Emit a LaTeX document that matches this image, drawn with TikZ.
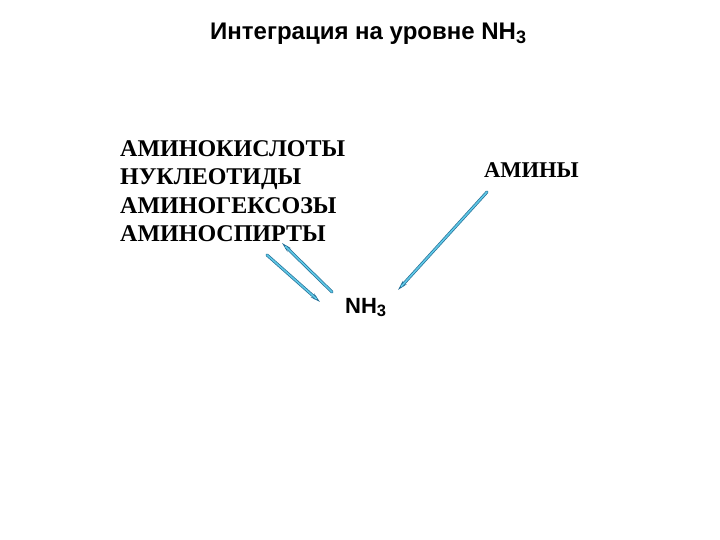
\documentclass[tikz,border=0pt]{standalone}
\usepackage{fontspec}
\setmainfont{Liberation Serif}
\setsansfont{Liberation Sans}
\usetikzlibrary{arrows.meta,positioning}
\definecolor{arrowfill}{RGB}{95,200,230}
\definecolor{arrowedge}{RGB}{35,110,150}

\newcommand{\subthree}{\raisebox{-0.3ex}{\scalebox{0.75}{3}}}

\tikzset{
  flow/.style={draw=arrowedge, line width=3pt, line cap=round,
    -{Stealth[length=10pt,width=5pt]},
    postaction={draw=arrowfill, line width=1.6pt, shorten >=5pt, -}},
}

\begin{document}
\begin{tikzpicture}[x=1pt, y=-1pt]
    \useasboundingbox (0,0) rectangle (720,540);

    % Title
    \node[anchor=base west, font=\sffamily\bfseries\fontsize{24}{28}\selectfont, inner sep=0pt]
        (title) at (210,40) {Интеграция на уровне NH\subthree};

    % Compounds
    \node[anchor=north west, align=left, inner sep=0pt,
          font=\bfseries\fontsize{24}{28.5}\selectfont]
        (list) at (120,140) {АМИНОКИСЛОТЫ\\НУКЛЕОТИДЫ\\АМИНОГЕКСОЗЫ\\АМИНОСПИРТЫ};
    \node[anchor=base west, inner sep=0pt, font=\bfseries\fontsize{22.5}{26}\selectfont]
        (amines) at (484,178) {АМИНЫ};
    \node[anchor=base west, inner sep=0pt, font=\sffamily\bfseries\fontsize{22}{26}\selectfont]
        (nh3) at (345,313) {NH\subthree};

    % Arrow ends
    \coordinate (listin)   at (282,243);
    \coordinate (listout)  at (267,255);
    \coordinate (nh3in)    at (320,302);
    \coordinate (nh3out)   at (332,292);
    \coordinate (aminout)  at (487,192);
    \coordinate (nh3in2)   at (398,290);

    % Arrows
    \draw[flow] (nh3out) -- (listin);
    \draw[flow] (listout) -- (nh3in);
    \draw[flow] (aminout) -- (nh3in2);
\end{tikzpicture}
\end{document}
